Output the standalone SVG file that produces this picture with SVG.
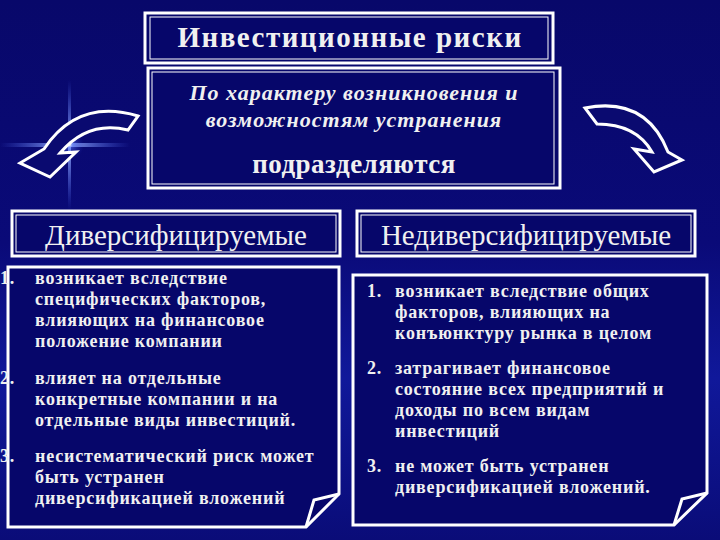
<svg xmlns="http://www.w3.org/2000/svg" width="720" height="540" viewBox="0 0 720 540">
<defs>
<linearGradient id="bg" x1="0" y1="0" x2="0" y2="1">
<stop offset="0" stop-color="#08086a"/><stop offset="0.45" stop-color="#0a0a78"/><stop offset="0.7" stop-color="#10189a"/><stop offset="1" stop-color="#0a0c78"/>
</linearGradient>
<radialGradient id="flare" cx="0.5" cy="0.5" r="0.5">
<stop offset="0" stop-color="#ffffff" stop-opacity="0.9"/><stop offset="0.2" stop-color="#6080ff" stop-opacity="0.5"/><stop offset="1" stop-color="#2030c0" stop-opacity="0"/>
</radialGradient>
<linearGradient id="fh" x1="0" y1="0" x2="1" y2="0">
<stop offset="0" stop-color="#5070ff" stop-opacity="0"/><stop offset="0.5" stop-color="#a0b8ff" stop-opacity="0.9"/><stop offset="1" stop-color="#5070ff" stop-opacity="0"/>
</linearGradient>
<linearGradient id="fv" x1="0" y1="0" x2="0" y2="1">
<stop offset="0" stop-color="#5070ff" stop-opacity="0"/><stop offset="0.5" stop-color="#a0b8ff" stop-opacity="0.9"/><stop offset="1" stop-color="#5070ff" stop-opacity="0"/>
</linearGradient>
<style>
.box{fill:#06066a;stroke:#fff;stroke-width:3}
.in{fill:none;stroke:#fff;stroke-width:1}
text{font-family:"Liberation Serif","DejaVu Serif",serif;fill:#f0f0f0}
.b{font-weight:bold}
.it{font-style:italic;font-weight:bold;letter-spacing:1px}
.li{font-weight:bold;font-size:18px;letter-spacing:0.8px}
.arr{fill:#0a0a70;stroke:#fff;stroke-width:3;stroke-linejoin:miter}
</style>
</defs>
<rect width="720" height="540" fill="url(#bg)"/>
<rect x="0" y="143" width="130" height="4" fill="url(#fh)"/>
<rect x="68" y="80" width="3" height="130" fill="url(#fv)"/>
<circle cx="70" cy="145" r="14" fill="url(#flare)"/>

<g id="arrows">
<path class="arr" d="M138,116 Q78,98 44,149 L20,163 L50,177 L76,152 L60,153 Q88,120 128,130 Z"/>
<path class="arr" d="M585,108 Q646,96 668,152 L682,160 L654,172 L634,149 L652,152 Q636,124 597,124 Z"/>
</g>

<g id="title">
<rect class="box" x="145" y="13" width="408" height="50"/>
<rect class="in" x="150" y="17" width="398" height="42"/>
<text class="b" x="350" y="47" font-size="29" letter-spacing="1.5" text-anchor="middle">Инвестиционные риски</text>
</g>

<g id="character">
<rect class="box" x="148" y="68" width="412" height="120"/>
<rect class="in" x="152" y="72" width="402" height="112"/>
<text class="it" x="354" y="100" font-size="22" text-anchor="middle">По характеру возникновения и</text>
<text class="it" x="354" y="127" font-size="22" text-anchor="middle">возможностям устранения</text>
<text class="b" x="354" y="173" font-size="27" letter-spacing="0.5" text-anchor="middle">подразделяются</text>
</g>

<g id="div-head">
<rect class="box" x="12" y="211" width="328" height="45"/>
<rect class="in" x="16" y="215" width="320" height="37"/>
<text x="176" y="245" font-size="29" text-anchor="middle">Диверсифицируемые</text>
</g>

<g id="nondiv-head">
<rect class="box" x="357" y="211" width="338" height="45"/>
<rect class="in" x="361" y="215" width="330" height="37"/>
<text x="526" y="245" font-size="29" text-anchor="middle">Недиверсифицируемые</text>
</g>

<g id="div-list">
<path class="box" d="M8,267 H339 V494 L306,527 H8 Z"/>
<path fill="none" stroke="#fff" stroke-width="3" d="M339,494 L314,500 L306,527"/>
<text class="li" x="0" y="284">1.</text>
<text class="li" x="35" y="284">возникает вследствие</text>
<text class="li" x="35" y="305">специфических факторов,</text>
<text class="li" x="35" y="326">влияющих на финансовое</text>
<text class="li" x="35" y="347">положение компании</text>
<text class="li" x="0" y="384">2.</text>
<text class="li" x="35" y="384">влияет на отдельные</text>
<text class="li" x="35" y="405">конкретные компании и на</text>
<text class="li" x="35" y="426">отдельные виды инвестиций.</text>
<text class="li" x="0" y="462">3.</text>
<text class="li" x="35" y="462">несистематический риск может</text>
<text class="li" x="35" y="483">быть устранен</text>
<text class="li" x="35" y="504">диверсификацией вложений</text>
</g>

<g id="nondiv-list">
<path class="box" d="M353,275 H707 V493 L674,525 H353 Z"/>
<path fill="none" stroke="#fff" stroke-width="3" d="M707,493 L682,499 L674,525"/>
<text class="li" x="367" y="297">1.</text>
<text class="li" x="395" y="297">возникает вследствие общих</text>
<text class="li" x="395" y="318">факторов, влияющих на</text>
<text class="li" x="395" y="339">конъюнктуру рынка в целом</text>
<text class="li" x="367" y="374">2.</text>
<text class="li" x="395" y="374">затрагивает финансовое</text>
<text class="li" x="395" y="395">состояние всех предприятий и</text>
<text class="li" x="395" y="416">доходы по всем видам</text>
<text class="li" x="395" y="437">инвестиций</text>
<text class="li" x="367" y="472">3.</text>
<text class="li" x="395" y="472">не может быть устранен</text>
<text class="li" x="395" y="493">диверсификацией вложений.</text>
</g>
</svg>
